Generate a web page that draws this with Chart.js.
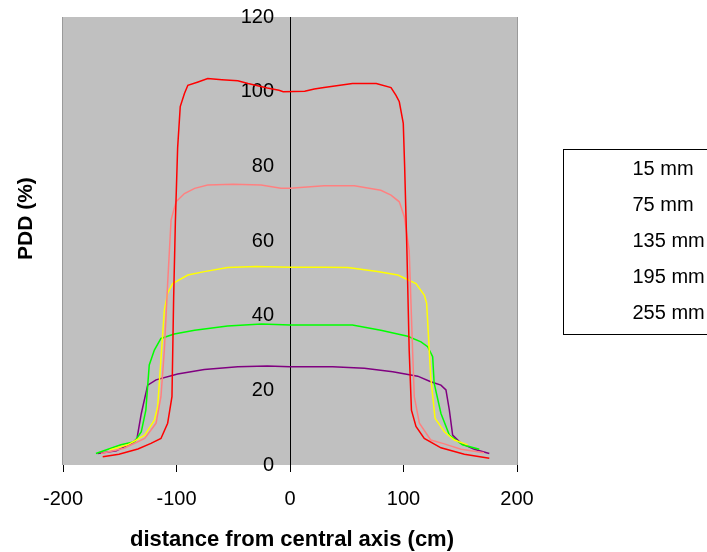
<!DOCTYPE html>
<html>
<head>
<meta charset="utf-8">
<script src="https://cdn.jsdelivr.net/npm/chart.js@4/dist/chart.umd.min.js"></script>
<style>
  html, body { margin: 0; padding: 0; background: #ffffff; }
  #wrap { width: 707px; height: 552px; }
</style>
</head>
<body>
<div id="wrap"><canvas id="c" width="707" height="552"></canvas></div>
<script>
// ---- data ----
const seriesLabels = ["15 mm", "75 mm", "135 mm", "195 mm", "255 mm"];
const seriesColors = ["#FF0000", "#FF8080", "#FFFF00", "#00FF00", "#800080"];

const x15 = [-165, -150.7, -134, -122.5, -113.7, -107.8, -104, -102.5, -101, -99, -96.7, -93, -90, -81, -72.5, -60, -46, -37, -20, -9.7, -6, 13, 21.4, 30, 55, 76, 89, 93.4, 96.3, 99.8, 101, 102.2, 103, 105, 107, 111, 118.3, 133, 153.6, 175.6];
const y15 = [2.2, 2.9, 4.3, 5.8, 7.1, 11.2, 18.3, 45, 65, 85, 96, 99.5, 101.7, 102.6, 103.5, 103.2, 102.9, 102.2, 101, 100.4, 100, 100.1, 100.7, 101.1, 102.2, 102.2, 101.1, 99, 97.3, 91.5, 80, 66.5, 57.5, 30.8, 14.7, 10.3, 7.1, 4.6, 2.9, 1.8];

const x75 = [-166.5, -146, -128, -118, -113.7, -110.7, -107.8, -104.8, -100.4, -93, -84, -72.5, -50, -25.5, -8, 0, 30, 56.7, 80, 89, 96.3, 100.7, 103.7, 105, 108, 109.5, 114, 124, 134.5, 150.7, 171];
const y75 = [3.1, 4.5, 7.1, 11.2, 18.3, 30.8, 48.6, 65.6, 70.5, 72.7, 74.1, 75, 75.2, 75, 74.1, 74.1, 74.8, 74.8, 73.6, 72.3, 70.5, 66.5, 60.2, 57.5, 30.8, 18.3, 11.2, 6.7, 5.8, 4.2, 3.3];

const x135 = [-159, -143, -128, -119.5, -116.6, -110.7, -107.8, -103.4, -90, -75.5, -55, -30, 0, 30, 51, 77, 95, 111, 118.3, 120.4, 124, 127.8, 136, 144.8, 156.6];
const y135 = [4, 5.4, 8, 12, 15.6, 41.5, 46, 48.6, 50.9, 51.8, 52.9, 53.2, 53, 53, 52.9, 51.8, 50.9, 48.6, 45.5, 43.3, 23.6, 12.5, 8.9, 6.7, 5.4];

const x195 = [-171, -149, -137, -131, -127, -124, -119.5, -113.7, -102, -84, -55, -25, 0, 30, 55, 80, 103.7, 115.4, 121.3, 125.7, 127, 133, 140.4, 152, 166.8];
const y195 = [3.1, 5.4, 6.2, 8.9, 14.7, 26.8, 30.8, 33.9, 35.1, 36.1, 37.2, 37.8, 37.5, 37.5, 37.5, 36.1, 34.5, 33, 31.7, 29, 21.9, 13.8, 8, 5.4, 4.2];

const x255 = [-169.5, -153, -138.6, -134.8, -131, -125.4, -118, -99, -75.5, -46, -20, 0, 37.6, 65.5, 90.5, 112.5, 124, 133, 137.4, 140.4, 143.3, 150.7, 162.4, 175.6];
const y255 = [3.1, 3.8, 6, 7.1, 13.8, 21.4, 22.8, 24.4, 25.6, 26.3, 26.5, 26.3, 26.3, 25.9, 25, 23.8, 22.3, 21.4, 20.1, 14.7, 8, 5.8, 4.2, 3.1];

const xTickValues = [-200, -100, 0, 100, 200];
const yTickValues = [0, 20, 40, 60, 80, 100, 120];
const xTitle = "distance from central axis (cm)";
const yTitle = "PDD (%)";

// ---- build chart ----
const xsList = [x15, x75, x135, x195, x255];
const ysList = [y15, y75, y135, y195, y255];
const datasets = seriesLabels.map((lab, i) => ({
  label: lab,
  data: xsList[i].map((x, j) => ({ x: x, y: ysList[i][j] })),
  borderColor: seriesColors[i],
  backgroundColor: seriesColors[i],
  borderWidth: 1.5,
  pointRadius: 0,
  fill: false,
  tension: 0
}));

const FONT = 'Arial, "Liberation Sans", sans-serif';
Chart.defaults.font.family = FONT;
Chart.defaults.color = '#000';

const decor = {
  id: 'decor',
  beforeDraw(chart) {
    const { ctx, chartArea: a } = chart;
    ctx.save();
    ctx.fillStyle = '#ffffff';
    ctx.fillRect(0, 0, chart.width, chart.height);
    ctx.fillStyle = '#C0C0C0';
    ctx.fillRect(a.left, a.top, a.right - a.left, a.bottom - a.top);
    ctx.strokeStyle = '#9a9a9a';
    ctx.lineWidth = 1;
    ctx.beginPath();
    ctx.moveTo(a.left - 0.5, a.top); ctx.lineTo(a.left - 0.5, a.bottom);
    ctx.moveTo(a.right + 0.5, a.top); ctx.lineTo(a.right + 0.5, a.bottom);
    ctx.stroke();
    ctx.restore();
  },
  afterDraw(chart) {
    const { ctx, chartArea: a } = chart;
    ctx.save();
    ctx.fillStyle = '#000';
    // x title
    ctx.font = 'bold 22px ' + FONT;
    ctx.textAlign = 'center';
    ctx.textBaseline = 'alphabetic';
    ctx.fillText(xTitle, (a.left + a.right) / 2 + 2, 546);
    // y title
    ctx.save();
    ctx.font = 'bold 21px ' + FONT;
    ctx.translate(31.5, 260);
    ctx.rotate(-Math.PI / 2);
    ctx.textAlign = 'left';
    ctx.fillText(yTitle, 0, 0);
    ctx.restore();
    // legend box
    ctx.strokeStyle = '#000';
    ctx.lineWidth = 1;
    ctx.strokeRect(563.5, 149.5, 200, 185);
    ctx.font = '20px ' + FONT;
    ctx.textAlign = 'left';
    seriesLabels.forEach((lab, i) => {
      ctx.fillText(lab, 632.5, 175 + i * 36);
    });
    ctx.restore();
  }
};

new Chart(document.getElementById('c'), {
  type: 'line',
  data: { datasets: datasets },
  plugins: [decor],
  options: {
    responsive: false,
    animation: false,
    layout: { padding: { left: 63, right: 190, top: 17, bottom: 0 } },
    plugins: { legend: { display: false }, tooltip: { enabled: false } },
    scales: {
      x: {
        type: 'linear',
        min: -200, max: 200,
        afterBuildTicks: (s) => { s.ticks = xTickValues.map(v => ({ value: v })); },
        afterFit: (s) => { s.height = 87; },
        ticks: { font: { size: 20 }, color: '#000', padding: 15, maxRotation: 0 },
        grid: { drawOnChartArea: false, drawTicks: true, tickLength: 7, color: '#000', tickColor: '#000' },
        border: { display: false }
      },
      y: {
        type: 'linear',
        position: 'center',
        min: 0, max: 120,
        afterBuildTicks: (s) => { s.ticks = yTickValues.map(v => ({ value: v })); },
        ticks: { font: { size: 20 }, color: '#000', padding: 0 },
        grid: { drawOnChartArea: false, drawTicks: true, tickLength: 16, color: '#000', tickColor: 'rgba(0,0,0,0)' },
        border: { display: true, color: '#000', width: 1 }
      }
    }
  }
});
</script>
</body>
</html>
